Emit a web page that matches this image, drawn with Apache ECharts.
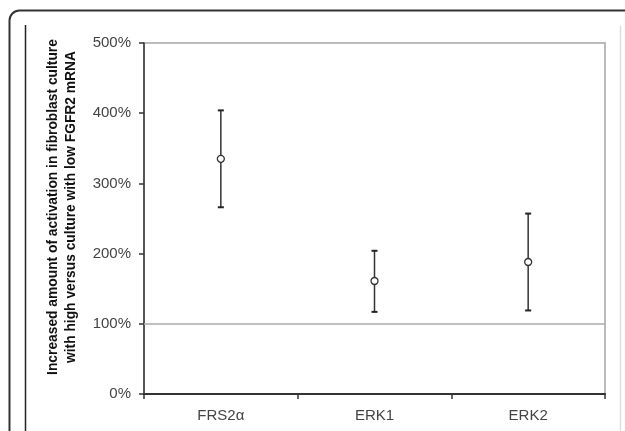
<!DOCTYPE html>
<html>
<head>
<meta charset="utf-8">
<script src="https://cdn.jsdelivr.net/npm/echarts@6/dist/echarts.min.js"></script>
<style>html,body{margin:0;padding:0;background:#fff;}#c{width:625px;height:431px;}</style>
</head>
<body>
<div id="c"></div>
<script>
const categories = ['FRS2\u03b1', 'ERK1', 'ERK2'];
const means = [335, 161, 188];
const lowerErr = [266, 117, 119];
const upperErr = [404, 204, 257];
const yTicks = [0, 100, 200, 300, 400, 500];
const yTitle = ['Increased amount of activation in fibroblast culture', 'with high versus culture with low FGFR2 mRNA'];

const chart = echarts.init(document.getElementById('c'), null, {renderer: 'canvas'});
const FONT = '"Liberation Sans", Arial, sans-serif';

const option = {
  animation: false,
  backgroundColor: '#fff',
  grid: {left: 144, right: 20, top: 43, bottom: 37, containLabel: false, show: true, borderColor: '#bbb', borderWidth: 2, backgroundColor: 'transparent'},
  xAxis: [{
    type: 'category', data: categories, boundaryGap: true,
    axisLine: {lineStyle: {color: '#333', width: 2}},
    axisTick: {show: true, length: 5, inside: false, lineStyle: {color: '#333', width: 1.5}},
    axisLabel: {margin: 14, fontFamily: FONT, fontSize: 15, color: '#444'},
    splitLine: {show: false}
  }],
  yAxis: [{
    type: 'value', min: yTicks[0], max: yTicks[yTicks.length - 1], interval: 100,
    axisLine: {show: true, lineStyle: {color: '#333', width: 1.5}},
    axisTick: {show: true, length: 5, lineStyle: {color: '#333', width: 1.5}},
    axisLabel: {margin: 13, fontFamily: FONT, fontSize: 15, color: '#444', formatter: '{value}%'},
    splitLine: {show: false}
  }],
  graphic: [
    {type: 'rect', shape: {x: 9.5, y: 10.5, width: 700, height: 600, r: 10}, style: {fill: 'none', stroke: '#333', lineWidth: 2}, z: 100},
    {type: 'line', shape: {x1: 25.5, y1: 25, x2: 25.5, y2: 431}, style: {stroke: '#222', lineWidth: 1.5}, z: 100},
    {type: 'line', shape: {x1: 620.5, y1: 26, x2: 620.5, y2: 431}, style: {stroke: '#ddd', lineWidth: 1.5}, z: 100},
    {type: 'text', x: 62, y: 207, rotation: Math.PI / 2,
      style: {text: yTitle.join('\n'), fontFamily: FONT, fontWeight: 'bold', fontSize: 13.8, lineHeight: 18, fill: '#111', align: 'center', verticalAlign: 'middle'}}
  ],
  series: [{
    type: 'custom',
    renderItem: function (params, api) {
      const x = api.coord([api.value(0), api.value(1)])[0];
      const lo = api.coord([api.value(0), api.value(1)])[1];
      const hi = api.coord([api.value(0), api.value(2)])[1];
      const cap = 3;
      const st = {stroke: '#333', lineWidth: 1.5};
      return {type: 'group', children: [
        {type: 'line', shape: {x1: x, y1: lo, x2: x, y2: hi}, style: st},
        {type: 'line', shape: {x1: x - cap, y1: lo, x2: x + cap, y2: lo}, style: {stroke: '#222', lineWidth: 2}},
        {type: 'line', shape: {x1: x - cap, y1: hi, x2: x + cap, y2: hi}, style: {stroke: '#222', lineWidth: 2}}
      ]};
    },
    data: categories.map((c, i) => [i, lowerErr[i], upperErr[i]]),
    z: 2
  }, {
    type: 'scatter',
    data: means.map((v, i) => [i, v]),
    symbol: 'circle', symbolSize: 7,
    itemStyle: {color: '#fff', borderColor: '#333', borderWidth: 1.3, opacity: 1},
    z: 3,
    markLine: {
      silent: true, symbol: 'none', label: {show: false},
      lineStyle: {color: '#aaa', width: 1.5, type: 'solid'},
      data: [{yAxis: 100}]
    }
  }]
};
chart.setOption(option);
</script>
</body>
</html>
